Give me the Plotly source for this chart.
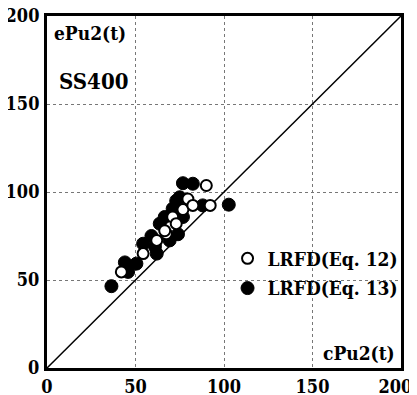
import plotly.graph_objects as go

# Eq.12 (open circles)
eq12_x = [42.0, 54.3, 62.0, 67.4, 66.5, 71.0, 73.0, 76.8, 79.6, 82.4, 90.0, 92.2]
eq12_y = [54.6, 65.0, 72.5, 76.3, 78.0, 85.8, 82.0, 90.0, 96.0, 92.4, 103.7, 92.4]

# Eq.13 (filled circles)
eq13_x = [36.4, 44.0, 45.8, 50.5, 54.3, 59.0, 61.0, 62.0, 63.7, 66.5, 69.3, 71.0,
          73.0, 75.0, 74.0, 76.8, 76.8, 82.4, 88.0, 102.7]
eq13_y = [46.5, 60.0, 54.6, 59.3, 70.6, 75.0, 69.0, 65.0, 82.0, 85.8, 72.5, 90.5,
          95.0, 97.0, 76.0, 85.8, 105.0, 104.7, 92.4, 92.8]

line_x = [0, 200]
line_y = [0, 200]

ticks = [0, 50, 100, 150, 200]
y_tick_text = ["0", "50", "100", "150", "200"]
x_tick_text = ["0", "50", "100", "150", "200&nbsp;&nbsp;"]

FONT = "DejaVu Serif Condensed"

fig = go.Figure()
fig.add_trace(go.Scatter(x=line_x, y=line_y, mode="lines",
                         line=dict(color="black", width=1.5), showlegend=False, hoverinfo="skip"))
fig.add_trace(go.Scatter(x=eq13_x, y=eq13_y, mode="markers", name="LRFD(Eq. 13)",
                         legendgroup="b", legendrank=2,
                         marker=dict(symbol="circle", size=13, color="black",
                                     line=dict(color="black", width=1))))
fig.add_trace(go.Scatter(x=eq12_x, y=eq12_y, mode="markers", name="LRFD(Eq. 12)",
                         legendgroup="a", legendrank=1,
                         marker=dict(symbol="circle", size=11, color="white",
                                     line=dict(color="black", width=2))))

axis_common = dict(range=[0, 200], tickvals=ticks,
                   showgrid=True, gridcolor="#777", griddash="dot", gridwidth=1,
                   showline=True, linecolor="black", linewidth=3, mirror=True,
                   ticks="", zeroline=False, automargin=False,
                   ticklabeloverflow="allow",
                   tickfont=dict(family=FONT, size=18, color="black", weight="bold"))

fig.update_xaxes(**axis_common, ticktext=x_tick_text, ticklabelstandoff=0)
fig.update_yaxes(**axis_common, ticktext=y_tick_text, ticklabelstandoff=1)

fig.update_layout(
    width=417, height=395,
    margin=dict(l=39, r=24, t=8, b=35),
    plot_bgcolor="white", paper_bgcolor="white",
    legend=dict(x=0.51, y=0.365, xanchor="left", yanchor="top",
                font=dict(family=FONT, size=19, color="black", weight="bold"),
                bgcolor="rgba(0,0,0,0)", traceorder="grouped", tracegroupgap=2,
                itemwidth=30),
    annotations=[
        dict(text="ePu2(t)", x=0.015, y=0.99, xref="paper", yref="paper",
             xanchor="left", yanchor="top", showarrow=False,
             font=dict(family=FONT, size=19, color="black", weight="bold")),
        dict(text="SS400", x=0.13, y=0.815, xref="paper", yref="paper",
             xanchor="center", yanchor="middle", showarrow=False,
             font=dict(family=FONT, size=22, color="black", weight="bold")),
        dict(text="cPu2(t)", x=0.99, y=0.005, xref="paper", yref="paper",
             xanchor="right", yanchor="bottom", showarrow=False,
             font=dict(family=FONT, size=19, color="black", weight="bold")),
    ],
)

fig.write_html("out.html")
